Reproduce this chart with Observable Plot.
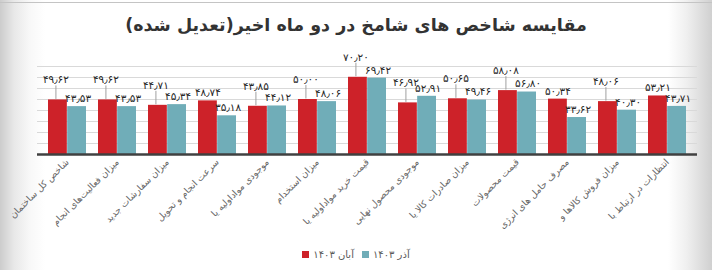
<!DOCTYPE html>
<html lang="fa">
<head>
<meta charset="utf-8">
<script src="https://cdn.jsdelivr.net/npm/d3@7"></script>
<script src="https://cdn.jsdelivr.net/npm/@observablehq/plot@0.6"></script>
<style>
  html, body { margin: 0; padding: 0; }
  body { width: 712px; height: 270px; overflow: hidden; font-family: "DejaVu Sans", sans-serif; }
  #wrap {
    position: relative; width: 712px; height: 270px;
    background: linear-gradient(to right, #cccccc 0px, #e8e8e8 14px, #f8f8f8 30px, #ffffff 45px, #ffffff 668px, #f0f0f0 686px, #d0d0d0 712px);
  }
  #topline { position: absolute; left: 0; top: 2px; width: 712px; height: 1px; background: #c4c4c4; }
  #title {
    position: absolute; left: 0; top: 15px; width: 712px; text-align: center;
    font: bold 17.5px "DejaVu Sans", sans-serif; color: #333333; direction: rtl;
  }
  #chart { position: absolute; left: 0; top: 0; }
  #legend {
    position: absolute; left: 0; top: 249px; width: 712px; text-align: center;
    font: 10px "DejaVu Sans", sans-serif; color: #595959;
  }
  #legend .item { display: inline-block; margin: 0 4px; }
  #legend .sw { display: inline-block; width: 7px; height: 7px; margin-right: 4px; vertical-align: 0px; }
  svg text { font-family: "DejaVu Sans", sans-serif; }
</style>
</head>
<body>
<div id="wrap">
  <div id="topline"></div>
  <div id="chart"></div>
  <div id="title">مقایسه شاخص های شامخ در دو ماه اخیر(تعدیل شده)</div>
  <div id="legend"></div>
</div>
<script>
// ---- data ----
const categories = [
  "شاخص کل ساختمان",
  "میزان فعالیت‌های انجام",
  "میزان سفارشات جدید",
  "سرعت انجام و تحویل",
  "موجودی مواداولیه یا",
  "میزان استخدام",
  "قیمت خرید مواداولیه یا",
  "موجودی محصول نهایی",
  "میزان صادرات کالا یا",
  "قیمت محصولات",
  "مصرف حامل های انرژی",
  "میزان فروش کالاها و",
  "انتظارات در ارتباط با"
];
const seriesNames = ["آبان ۱۴۰۳", "آذر ۱۴۰۳"];
const aban = [49.62, 49.62, 44.71, 48.74, 43.85, 50.00, 70.20, 46.92, 50.65, 58.08, 50.34, 48.06, 53.21];
const azar = [43.53, 43.53, 45.34, 35.18, 44.12, 48.06, 69.42, 52.91, 49.46, 56.80, 33.62, 40.30, 43.71];
const yTicks = [0, 10, 20, 30, 40, 50, 60, 70, 80];

// ---- layout / style ----
const RED = "#cd2229", TEAL = "#70adb8";
const W = 712, H = 240, ML = 37, MR = 15, MT = 66, MB = 86;
const PI = 0.245, PO = 0.12;
const n = categories.length;
const step = (W - ML - MR) / (n - PI + 2 * PO);
const half = step * (1 - PI) / 2;
const pxPerUnit = (H - MT - MB) / (yTicks[yTicks.length - 1] - yTicks[0]);

const faDigits = "۰۱۲۳۴۵۶۷۸۹";
const fa = v => v.toFixed(2).replace(/[0-9]/g, c => faDigits[+c]).replace(".", "٫");

const redRows = categories.map((c, i) => ({cat: c, value: aban[i], other: azar[i]}));
const tealRows = categories.map((c, i) => ({cat: c, value: azar[i], other: aban[i]}));
const isLifted = d => Math.abs(d.value - d.other) < 9;
const redLifted = redRows.filter(isLifted);
const redFlat = redRows.filter(d => !isLifted(d));
const LIFT = 12;

const chart = Plot.plot({
  width: W, height: H,
  marginLeft: ML, marginRight: MR, marginTop: MT, marginBottom: MB,
  x: {domain: categories, paddingInner: PI, paddingOuter: PO, label: null, tickSize: 0, tickPadding: 6, tickRotate: -45},
  y: {domain: [yTicks[0], yTicks[yTicks.length - 1]], axis: null},
  style: {fontSize: "9.3px", color: "#666666", background: "transparent", overflow: "visible"},
  marks: [
    Plot.ruleY(yTicks.slice(1), {stroke: "#d9d9d9", strokeWidth: 1}),
    Plot.barY(redRows, {x: "cat", y: "value", fill: RED, insetRight: half}),
    Plot.barY(tealRows, {x: "cat", y: "value", fill: TEAL, insetLeft: half}),
    Plot.ruleY([0], {stroke: "#404040", strokeWidth: 2.5}),
    Plot.ruleX(redLifted, {x: "cat", y1: d => d.value + 0.5 / pxPerUnit, y2: d => d.value + (8 + LIFT - 6) / pxPerUnit, dx: -half / 2 - 2, stroke: "#a0a0a0", strokeWidth: 1}),
    Plot.text(redFlat, {x: "cat", y: "value", text: d => fa(d.value), dx: -half / 2, dy: -8, fontSize: 10.5, fill: "#262626"}),
    Plot.text(redLifted, {x: "cat", y: "value", text: d => fa(d.value), dx: -half / 2 - 2, dy: -8 - LIFT, fontSize: 10.5, fill: "#262626"}),
    Plot.text(tealRows, {x: "cat", y: "value", text: d => fa(d.value), dx: half / 2 + 1, dy: -8, fontSize: 10.5, fill: "#262626"})
  ]
});
document.getElementById("chart").appendChild(chart);

// legend
const legend = document.getElementById("legend");
[RED, TEAL].forEach((col, i) => {
  const item = document.createElement("span");
  item.className = "item";
  const sw = document.createElement("span");
  sw.className = "sw";
  sw.style.background = col;
  const t = document.createElement("span");
  t.textContent = seriesNames[i];
  item.appendChild(sw);
  item.appendChild(t);
  legend.appendChild(item);
});
</script>
</body>
</html>
